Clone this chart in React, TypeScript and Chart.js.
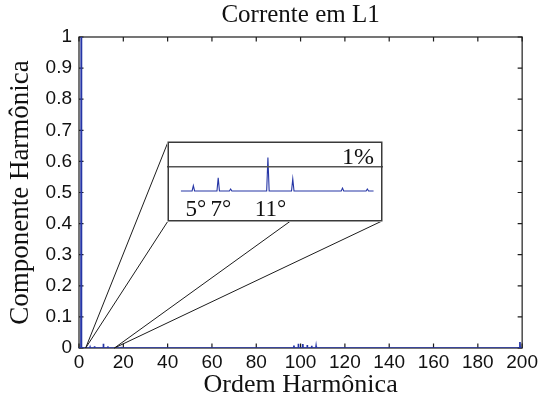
import React, { useEffect, useRef } from "react";
import { Chart, registerables } from "chart.js";

Chart.register(...registerables);

// ---- text ----
const TITLE = "Corrente em L1";
const X_TITLE = "Ordem Harmônica";
const Y_TITLE = "Componente Harmônica";

// ---- axes ----
const X_TICKS = [0, 20, 40, 60, 80, 100, 120, 140, 160, 180, 200];
const Y_TICKS = [0, 0.1, 0.2, 0.3, 0.4, 0.5, 0.6, 0.7, 0.8, 0.9, 1];
const Y_TICK_LABELS = ["0", "0.1", "0.2", "0.3", "0.4", "0.5", "0.6", "0.7", "0.8", "0.9", "1"];

// ---- spectrum: harmonic order and amplitude (fraction of the fundamental) ----
const HARMONIC_ORDERS = [1, 5, 7, 8, 11, 13, 17, 19, 97, 99, 101, 103, 105, 107, 199];
const HARMONIC_AMPLITUDES = [
  1, 0.0022, 0.0054, 0.0008, 0.0138, 0.005, 0.0012, 0.0008, 0.008, 0.014, 0.013, 0.01, 0.007, 0.005,
  0.019,
];

// ---- inset (detail of the low orders, in percent) ----
const ZOOM_ORDERS = [3, 16]; // orders marked on the main axes
const INSET_ORDERS = [4, 19.5]; // orders plotted inside the inset
const INSET_X_RANGE = [2.88, 20.26];
const INSET_Y_RANGE = [-1.28, 2.06];
const REFERENCE_LEVEL = 1; // percent
const REFERENCE_LABEL = "1%";
const INSET_LABEL_ORDERS = [5, 7, 11];
const INSET_LABELS = ["5°", "7°", "11°"];

// ---- layout / style ----
const W = 541;
const H = 402;
const INSET = { left: 167, top: 141, width: 216, height: 81 };
const SERIF = '"Liberation Serif", "Times New Roman", serif';
const SANS = '"Liberation Sans", Arial, Helvetica, sans-serif';
const BLUE = "#2636a6";
const INK = "#1c1c1c";
const SPIKE_HALF_WIDTH = 0.1;

type Pt = { x: number; y: number };

function spectrumPoints(from: number, to: number, scale: number): Pt[] {
  const pts: Pt[] = [{ x: from, y: 0 }];
  HARMONIC_ORDERS.forEach((h, i) => {
    if (h < from || h > to) return;
    pts.push(
      { x: Math.max(from, h - SPIKE_HALF_WIDTH), y: 0 },
      { x: h, y: HARMONIC_AMPLITUDES[i] * scale },
      { x: Math.min(to, h + SPIKE_HALF_WIDTH), y: 0 }
    );
  });
  pts.push({ x: to, y: 0 });
  return pts;
}

// Box around the plot area with inward tick marks on all four sides.
const boxedAxes = {
  id: "boxedAxes",
  beforeDatasetsDraw(chart: any) {
    const { ctx, chartArea: a, scales } = chart;
    const L = 4.5;
    ctx.save();
    ctx.strokeStyle = INK;
    ctx.lineWidth = 1.2;
    ctx.strokeRect(a.left, a.top, a.right - a.left, a.bottom - a.top);
    ctx.beginPath();
    X_TICKS.forEach((v) => {
      const px = scales.x.getPixelForValue(v);
      ctx.moveTo(px, a.bottom);
      ctx.lineTo(px, a.bottom - L);
      ctx.moveTo(px, a.top);
      ctx.lineTo(px, a.top + L);
    });
    Y_TICKS.forEach((v) => {
      const py = scales.y.getPixelForValue(v);
      ctx.moveTo(a.left, py);
      ctx.lineTo(a.left + L, py);
      ctx.moveTo(a.right, py);
      ctx.lineTo(a.right - L, py);
    });
    ctx.stroke();
    ctx.restore();
  },
};

// Lines joining the inset to the zoomed range on the main axes.
const zoomConnectors = {
  id: "zoomConnectors",
  afterDatasetsDraw(chart: any) {
    const { ctx, scales } = chart;
    const l = INSET.left + 1;
    const t = INSET.top + 1;
    const b = INSET.top + INSET.height - 1;
    const r = INSET.left + INSET.width - 1;
    const x0 = scales.x.getPixelForValue(ZOOM_ORDERS[0]);
    const x1 = scales.x.getPixelForValue(ZOOM_ORDERS[1]);
    const y0 = scales.y.getPixelForValue(0);
    const segs = [
      [l, t, x0, y0],
      [l, b, x0, y0],
      [INSET.left + 0.572 * INSET.width, b, x1, y0],
      [r, b, x1, y0],
    ];
    ctx.save();
    ctx.strokeStyle = INK;
    ctx.lineWidth = 1;
    ctx.beginPath();
    segs.forEach(([ax, ay, bx, by]) => {
      ctx.moveTo(ax, ay);
      ctx.lineTo(bx, by);
    });
    ctx.stroke();
    ctx.restore();
  },
};

// Inset frame, white background and annotations.
const insetDecor = {
  id: "insetDecor",
  beforeDraw(chart: any) {
    const { ctx, width, height } = chart;
    ctx.save();
    ctx.fillStyle = "#fff";
    ctx.fillRect(0, 0, width, height);
    ctx.restore();
  },
  afterDatasetsDraw(chart: any) {
    const { ctx, width, height, scales } = chart;
    ctx.save();
    ctx.strokeStyle = "#3a3a3a";
    ctx.lineWidth = 1.5;
    ctx.strokeRect(1.25, 1.25, width - 2.5, height - 2.5);

    ctx.fillStyle = "#111";
    ctx.font = `24px ${SERIF}`;
    ctx.textBaseline = "alphabetic";
    ctx.textAlign = "right";
    ctx.fillText(REFERENCE_LABEL, width - 9, scales.y.getPixelForValue(REFERENCE_LEVEL) - 2.5);

    ctx.font = `23px ${SERIF}`;
    ctx.textAlign = "left";
    INSET_LABELS.forEach((txt, i) => {
      const num = txt.replace("°", "");
      const nw = ctx.measureText(num).width;
      const px = scales.x.getPixelForValue(INSET_LABEL_ORDERS[i]);
      ctx.fillText(txt, px - nw / 2 - 2, height - 6);
    });
    ctx.restore();
  },
};

export default function App() {
  const mainRef = useRef<HTMLCanvasElement>(null);
  const insetRef = useRef<HTMLCanvasElement>(null);

  useEffect(() => {
    const tickFont = { family: SANS, size: 19, weight: "normal" as const };

    const main = new Chart(mainRef.current!, {
      type: "line",
      data: {
        datasets: [
          {
            data: spectrumPoints(0, 200, 1),
            borderColor: BLUE,
            borderWidth: 1.7,
            pointRadius: 0,
            tension: 0,
          },
        ],
      },
      options: {
        responsive: false,
        animation: false,
        events: [],
        layout: { padding: { left: 0, right: 17, top: 0, bottom: 0 } },
        plugins: {
          legend: { display: false },
          tooltip: { enabled: false },
          title: {
            display: true,
            text: TITLE,
            fullSize: false,
            color: "#111",
            font: { family: SERIF, size: 25, weight: "normal" },
            padding: { top: 0, bottom: 7 },
          },
        },
        scales: {
          x: {
            type: "linear",
            min: 0,
            max: 200,
            grid: { display: false, drawTicks: false },
            border: { display: false },
            afterBuildTicks: (s: any) => {
              s.ticks = X_TICKS.map((v) => ({ value: v }));
            },
            afterFit: (s: any) => {
              s.height = 54;
            },
            ticks: {
              color: "#111",
              font: tickFont,
              padding: 3,
              maxRotation: 0,
              autoSkip: false,
              callback: (v: any) => String(v),
            },
            title: {
              display: true,
              text: X_TITLE,
              color: "#111",
              font: { family: SERIF, size: 26, weight: "normal" },
              padding: { top: 0, bottom: 1.5 },
            },
          },
          y: {
            type: "linear",
            min: 0,
            max: 1,
            grid: { display: false, drawTicks: false },
            border: { display: false },
            afterBuildTicks: (s: any) => {
              s.ticks = Y_TICKS.map((v) => ({ value: v }));
            },
            afterFit: (s: any) => {
              s.width = 79;
            },
            ticks: {
              color: "#111",
              font: tickFont,
              padding: 7,
              autoSkip: false,
              callback: (v: any) => {
                const i = Y_TICKS.findIndex((t) => Math.abs(t - v) < 1e-9);
                return i >= 0 ? Y_TICK_LABELS[i] : "";
              },
            },
            title: {
              display: true,
              text: Y_TITLE,
              color: "#111",
              font: { family: SERIF, size: 27, weight: "normal" },
              padding: { top: 5, bottom: 0 },
            },
          },
        },
      },
      plugins: [boxedAxes, zoomConnectors],
    });

    const inset = new Chart(insetRef.current!, {
      type: "line",
      data: {
        datasets: [
          {
            data: [
              { x: INSET_X_RANGE[0], y: REFERENCE_LEVEL },
              { x: INSET_X_RANGE[1], y: REFERENCE_LEVEL },
            ],
            borderColor: "#555",
            borderWidth: 1.5,
            pointRadius: 0,
          },
          {
            data: spectrumPoints(INSET_ORDERS[0], INSET_ORDERS[1], 100),
            borderColor: BLUE,
            borderWidth: 1.1,
            pointRadius: 0,
            tension: 0,
          },
        ],
      },
      options: {
        responsive: false,
        animation: false,
        events: [],
        layout: { padding: 0 },
        plugins: { legend: { display: false }, tooltip: { enabled: false }, title: { display: false } },
        scales: {
          x: { type: "linear", display: false, min: INSET_X_RANGE[0], max: INSET_X_RANGE[1] },
          y: { type: "linear", display: false, min: INSET_Y_RANGE[0], max: INSET_Y_RANGE[1] },
        },
      },
      plugins: [insetDecor],
    });

    return () => {
      main.destroy();
      inset.destroy();
    };
  }, []);

  return (
    <div style={{ position: "absolute", left: 0, top: 0, width: W, height: H, background: "#fff" }}>
      <canvas
        ref={mainRef}
        width={W}
        height={H}
        style={{ position: "absolute", left: 0, top: 0, width: W, height: H }}
      />
      <canvas
        ref={insetRef}
        width={INSET.width}
        height={INSET.height}
        style={{
          position: "absolute",
          left: INSET.left,
          top: INSET.top,
          width: INSET.width,
          height: INSET.height,
        }}
      />
    </div>
  );
}
